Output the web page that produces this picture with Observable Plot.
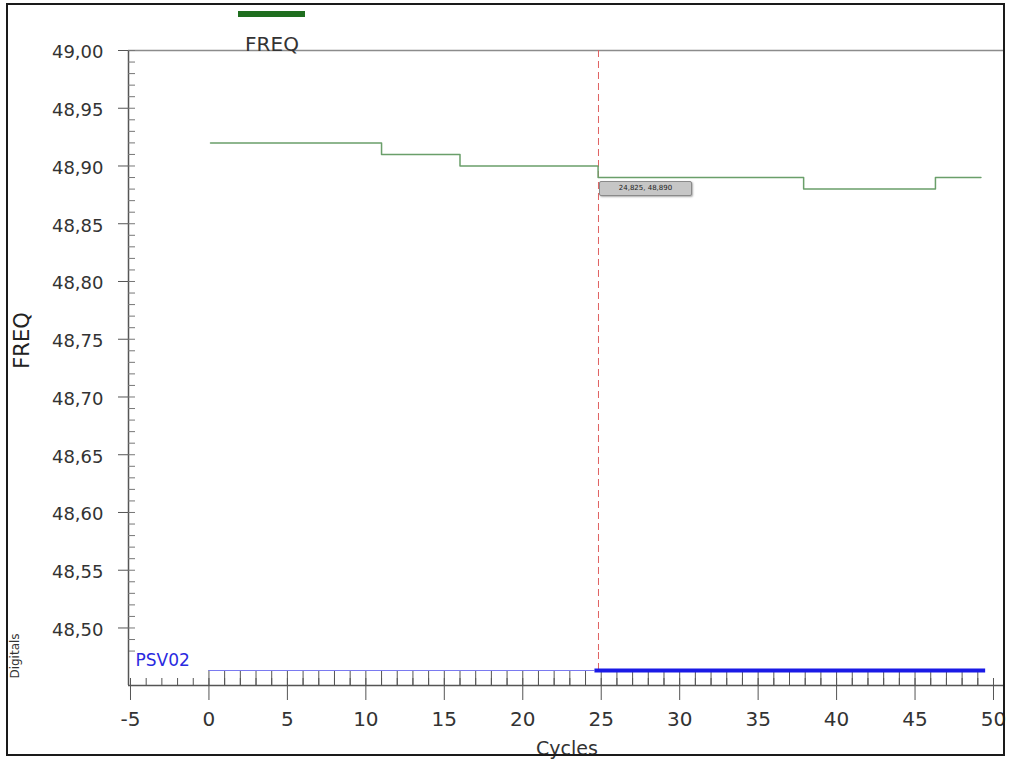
<!DOCTYPE html>
<html><head><meta charset="utf-8">
<script src="https://cdn.jsdelivr.net/npm/d3@7"></script>
<script src="https://cdn.jsdelivr.net/npm/@observablehq/plot@0.6"></script>
<style>
body{margin:0;background:#fff;font-family:"DejaVu Sans",Arial,sans-serif;}
#wrap{position:relative;width:1009px;height:760px;overflow:hidden;background:#fff}
#wrap svg{position:absolute;left:0}
.border{position:absolute;left:6px;top:3px;width:995px;height:749px;border:2px solid #1a1a1a;pointer-events:none}
.lgbar{position:absolute;left:238px;top:11px;width:67px;height:6px;background:#1f6e1f}
.lgtxt{position:absolute;left:222px;width:100px;top:32px;font-size:20px;line-height:24px;text-align:center;color:#333}
.tip{position:absolute;width:91px;height:13px;background:#c6c6c6;border:1px solid #8a8a8a;border-radius:2px;box-shadow:1px 1px 2px #aaa;font-size:7px;line-height:13px;text-align:center;color:#222}
</style></head><body><div id="wrap"></div>
<script>
// FREQ step series
const cycles = [0.1, 11, 16, 24.8, 37.9, 46.3, 49.2];
const freq = [48.92, 48.91, 48.90, 48.89, 48.88, 48.89, 48.89];
// Axis ticks
const yTicks = [48.50, 48.55, 48.60, 48.65, 48.70, 48.75, 48.80, 48.85, 48.90, 48.95, 49.00];
const xTicks = [-5, 0, 5, 10, 15, 20, 25, 30, 35, 40, 45, 50];
// Digital channel PSV02
const psvSamples = [0,1,2,3,4,5,6,7,8,9,10,11,12,13,14,15,16,17,18,19,20,21,22,23,24,25,26,27,28,29,30,31,32,33,34,35,36,37,38,39,40,41,42,43,44,45,46,47,48,49];
const psvStart = [0, 24.6];
const psvEnd = [24.6, 49.5];
const psvState = [0, 1];
// Cursor
const cursorCycle = 24.825;
const cursorFreq = 48.89;
const cursorLabel = "24,825, 48,890";

const freqData = cycles.map((c, i) => ({c, f: freq[i]}));
const psvSeg = psvStart.map((s, i) => ({s, e: psvEnd[i], st: psvState[i]}));
const yMinor = d3.range(48.48, 49.001, 0.01);
const xMinor = d3.range(-5, 51, 1);
const fmt = d => d.toFixed(2).replace(".", ",");
const xDomain = [-5.127, 50.765];
const W = 1009;
const font = "DejaVu Sans, Arial, sans-serif";
const style = {background: "transparent", overflow: "visible", fontFamily: font, color: "#333"};

const plotA = Plot.plot({
  width: W, height: 650, marginTop: 50, marginBottom: 0, marginLeft: 128, marginRight: 4,
  style,
  x: {domain: xDomain, axis: null},
  y: {domain: [48.4805, 49], axis: null},
  marks: [
    Plot.ruleY([49], {stroke: "#8c8c8c", strokeWidth: 1.5}),
    Plot.ruleX([xDomain[0]], {stroke: "#555", strokeWidth: 1.5}),
    Plot.tickY(yMinor, {insetRight: W - 128 - 4 - 7, stroke: "#777"}),
    Plot.axisY(yTicks, {anchor: "left", tickSize: 10, tickFormat: () => "", stroke: "#555", label: null}),
    Plot.axisY(yTicks, {anchor: "left", tickSize: 0, tickPadding: 25, dy: 2, tickFormat: fmt, fontSize: 18, fill: "#333", label: null}),
    Plot.ruleX([cursorCycle], {stroke: "#e06060", strokeDasharray: "7,4"}),
    Plot.line(freqData, {x: "c", y: "f", curve: "step-after", stroke: "#6a9f6a", strokeWidth: 1.5}),
    Plot.text(["FREQ"], {frameAnchor: "left", textAnchor: "middle", rotate: -90, dx: -106, dy: -10, fontSize: 21, fill: "#222"})
  ]
});

const plotB = Plot.plot({
  width: W, height: 110, marginTop: 0, marginBottom: 75, marginLeft: 128, marginRight: 4,
  style,
  x: {domain: xDomain, axis: null},
  y: {domain: [0, 35 / 15], axis: null},
  marks: [
    Plot.ruleX([xDomain[0]], {stroke: "#555", strokeWidth: 1.5}),
    Plot.tickX(xMinor, {insetTop: 28, stroke: "#555"}),
    Plot.ruleX(psvSamples, {y1: 0, y2: 1, stroke: "#555"}),
    Plot.ruleY([0], {stroke: "#555", strokeWidth: 1.5}),
    Plot.ruleX([cursorCycle], {y1: 1, y2: 35 / 15, stroke: "#e06060", strokeDasharray: "7,4"}),
    Plot.ruleY(psvSeg.filter(d => d.st === 0), {y: () => 1, x1: "s", x2: "e", stroke: "#7a7af0", strokeWidth: 1}),
    Plot.ruleY(psvSeg.filter(d => d.st === 1), {y: () => 1, x1: "s", x2: "e", stroke: "#1a1ae6", strokeWidth: 4}),
    Plot.axisX(xTicks, {anchor: "bottom", tickSize: 15, tickPadding: 11, fontSize: 20, tickFormat: d => String(d), stroke: "#555", fill: "#333", label: null}),
    Plot.text(["PSV02"], {frameAnchor: "top-left", dx: 7, dy: 10, lineAnchor: "middle", textAnchor: "start", fill: "#2a2ae0", fontSize: 17}),
    Plot.text(["Digitals"], {frameAnchor: "left", textAnchor: "middle", rotate: -90, dx: -113, dy: -12, fontSize: 12, fill: "#333"}),
    Plot.text(["Cycles"], {frameAnchor: "bottom", dy: 63, lineAnchor: "middle", fontSize: 19, fill: "#333"})
  ]
});

const wrap = document.getElementById("wrap");
plotA.style.top = "0px";
plotB.style.top = "650px";
wrap.appendChild(plotA);
wrap.appendChild(plotB);

const lgBar = document.createElement("div"); lgBar.className = "lgbar"; wrap.appendChild(lgBar);
const lgTxt = document.createElement("div"); lgTxt.className = "lgtxt"; lgTxt.textContent = "FREQ"; wrap.appendChild(lgTxt);

const tip = document.createElement("div");
tip.className = "tip";
tip.textContent = cursorLabel;
tip.style.left = (plotA.scale("x").apply(cursorCycle) + 1) + "px";
tip.style.top = (plotA.scale("y").apply(cursorFreq) + 4) + "px";
wrap.appendChild(tip);

const border = document.createElement("div"); border.className = "border"; wrap.appendChild(border);
</script></body></html>
